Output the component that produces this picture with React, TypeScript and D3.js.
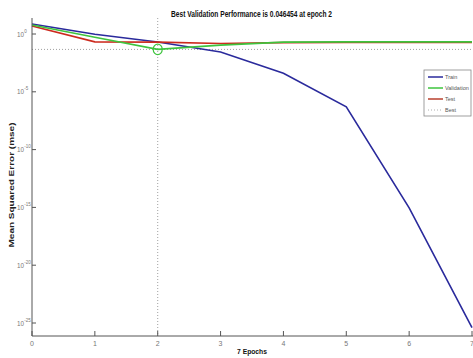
import * as d3 from "d3"

const epochs = [0, 1, 2, 3, 4, 5, 6, 7]
const trainMse = [7.4, 0.95, 0.2, 0.028, 4e-4, 5e-7, 9e-16, 4e-26]
const validationMse = [6, 0.52, 0.046454, 0.11, 0.2, 0.21, 0.21, 0.21]
const testMse = [5, 0.21, 0.2, 0.15, 0.18, 0.19, 0.19, 0.19]
const bestEpoch = 2
const bestValue = 0.046454
const yTickExps = [0, -5, -10, -15, -20, -25]
const legendItems = ["Train", "Validation", "Test", "Best"]

const W = 473
const H = 358

export default function App() {
  const x = d3.scaleLinear().domain([0, 7]).range([32, 472])
  const y = d3.scaleLog().domain([1e-25, 1]).range([323, 34])
  const axisY = 336
  const plotTop = 18

  const line = d3
    .line<number>()
    .x((_, i) => x(epochs[i]))
    .y((d) => y(d))

  const series = [
    { name: "Train", values: trainMse, color: "#2a2a9c" },
    { name: "Test", values: testMse, color: "#cc2a1e" },
    { name: "Validation", values: validationMse, color: "#3ec43e" },
  ]
  const legendColor: Record<string, string> = {
    Train: "#2a2a9c",
    Validation: "#3ec43e",
    Test: "#b8402e",
    Best: "#999",
  }

  const font = "'Liberation Sans', Arial, sans-serif"

  return (
    <svg
      width={W}
      height={H}
      style={{ position: "absolute", left: 0, top: 0, background: "#fff" }}
      fontFamily={font}
    >
      {/* best markers */}
      <line x1={x(bestEpoch)} x2={x(bestEpoch)} y1={plotTop} y2={axisY} stroke="#888" strokeDasharray="1,2" strokeWidth={0.8} />
      <line x1={x(0)} x2={W} y1={y(bestValue)} y2={y(bestValue)} stroke="#888" strokeDasharray="1,2" strokeWidth={0.8} />

      {series.map((s) => (
        <path key={s.name} d={line(s.values) || ""} fill="none" stroke={s.color} strokeWidth={1.6} />
      ))}
      <ellipse cx={x(bestEpoch)} cy={y(bestValue)} rx={4.5} ry={5.2} fill="none" stroke="#3ec43e" strokeWidth={1.2} />

      {/* axes */}
      <line x1={x(0)} x2={x(0)} y1={plotTop} y2={axisY} stroke="#555" strokeWidth={1} />
      <line x1={x(0)} x2={W} y1={axisY} y2={axisY} stroke="#555" strokeWidth={1} />
      {epochs.map((e) => (
        <g key={e}>
          <line x1={x(e)} x2={x(e)} y1={axisY} y2={axisY - 5} stroke="#555" />
          <text x={x(e)} y={346} fontSize={7} fill="#777" textAnchor="middle">
            {e}
          </text>
        </g>
      ))}
      {yTickExps.map((p) => (
        <g key={p}>
          <line x1={x(0)} x2={x(0) + 4} y1={y(Math.pow(10, p))} y2={y(Math.pow(10, p))} stroke="#555" />
          <text x={24} y={y(Math.pow(10, p)) + 2.5} fontSize={6.5} fill="#777" textAnchor="end" textLength={7} lengthAdjust="spacingAndGlyphs">
            10
          </text>
          <text x={24.3} y={y(Math.pow(10, p)) - 1.5} fontSize={4.5} fill="#777">
            {p}
          </text>
        </g>
      ))}

      {/* title and labels */}
      <text x={251.5} y={17} fontSize={8.5} fontWeight="bold" textAnchor="middle" textLength={161} lengthAdjust="spacingAndGlyphs" fill="#111">
        Best Validation Performance is 0.046454 at epoch 2
      </text>
      <text x={252} y={354} fontSize={8} fontWeight="bold" textAnchor="middle" textLength={30} lengthAdjust="spacingAndGlyphs" fill="#111">
        7 Epochs
      </text>
      <text
        transform="translate(14,185) rotate(-90)"
        fontSize={7}
        fontWeight="bold"
        textAnchor="middle"
        textLength={125}
        lengthAdjust="spacingAndGlyphs"
        fill="#222"
      >
        Mean Squared Error  (mse)
      </text>

      {/* legend */}
      <rect x={424} y={70} width={47} height={46} fill="#fff" stroke="#888" strokeWidth={0.8} />
      {legendItems.map((name, i) => (
        <g key={name}>
          <line
            x1={428}
            x2={443}
            y1={77 + i * 11}
            y2={77 + i * 11}
            stroke={legendColor[name]}
            strokeWidth={name === "Best" ? 0.8 : 1.5}
            strokeDasharray={name === "Best" ? "1,2" : undefined}
          />
          <text x={445} y={79 + i * 11} fontSize={5.5} fill="#555">
            {name}
          </text>
        </g>
      ))}
    </svg>
  )
}
